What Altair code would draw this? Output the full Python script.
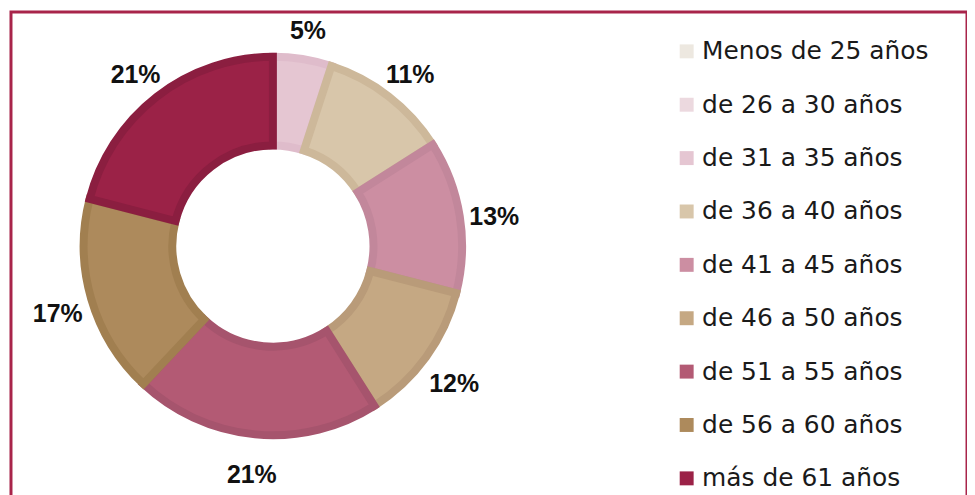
import altair as alt
import pandas as pd

categories = ["Menos de 25 años", "de 26 a 30 años", "de 31 a 35 años", "de 36 a 40 años",
              "de 41 a 45 años", "de 46 a 50 años", "de 51 a 55 años", "de 56 a 60  años",
              "más de 61 años"]
values = [0, 0, 5, 11, 13, 12, 21, 17, 21]
fill_colors = ["#ede8e0", "#ecd9df", "#e5c6d2", "#d8c6aa", "#cc8ea2", "#c5a883",
               "#b35a74", "#ad8a5c", "#9b2247"]
edge_colors = ["#e2dcd2", "#e2ccd3", "#dfbccb", "#cdb89a", "#c2879b", "#b99b79",
               "#a6546d", "#a17f50", "#8b1e40"]

df = pd.DataFrame({"cat": categories, "val": values, "idx": list(range(len(categories)))})
df["label"] = df["val"].astype(str) + "%"

cx, cy = 263, 235

base = alt.Chart(df).encode(
    theta=alt.Theta("val:Q", stack=True),
    order=alt.Order("idx:Q", sort="ascending"),
)

arcs = base.mark_arc(radius=190, radius2=101, strokeWidth=8, strokeJoin="miter").encode(
    color=alt.Color("cat:N", scale=alt.Scale(domain=categories, range=fill_colors),
                    legend=alt.Legend(title=None, orient="none", legendX=666, legendY=27,
                                      symbolType="square", symbolSize=196,
                                      symbolStrokeWidth=0, labelFontSize=25,
                                      labelFont="DejaVu Sans", labelColor="#1a1a1a",
                                      labelOffset=3, rowPadding=27.6, padding=0,
                                      labelLimit=400)),
    stroke=alt.Stroke("cat:N", scale=alt.Scale(domain=categories, range=edge_colors), legend=None),
    x=alt.value(cx), y=alt.value(cy),
)

texts = base.transform_filter("datum.val > 0").mark_text(
    radius=225, dy=6, font="Liberation Sans", fontWeight="bold", fontSize=25,
    color="#111111", align="center", baseline="middle"
).encode(text="label:N", x=alt.value(cx), y=alt.value(cy))

chart = alt.layer(arcs, texts).properties(
    width=960, height=490,
    autosize=alt.AutoSizeParams(type="none"),
    padding={"left": 3, "top": 3, "right": 0, "bottom": 0},
).configure_view(stroke="#a8244a", strokeWidth=3)

chart.save("out.html", embed_options={"renderer": "svg", "actions": False})
